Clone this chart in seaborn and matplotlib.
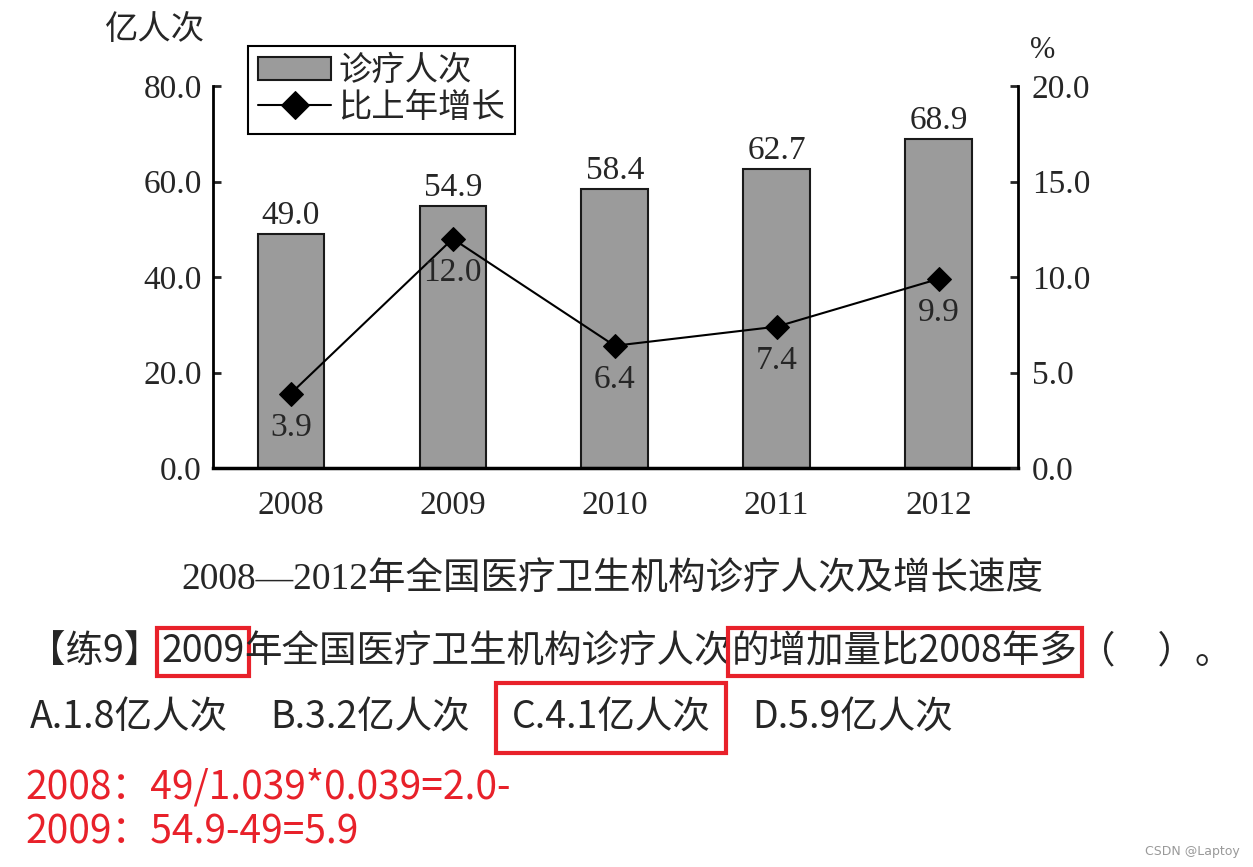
import numpy as np
import matplotlib
matplotlib.use('Agg')
import matplotlib.pyplot as plt
import seaborn as sns
import pandas as pd
from matplotlib.ticker import FormatStrFormatter

# 数据
years = ['2008', '2009', '2010', '2011', '2012']
visits = [49.0, 54.9, 58.4, 62.7, 68.9]   # 亿人次
growth = [3.9, 12.0, 6.4, 7.4, 9.9]       # 比上年增长 %

caption = '2008—2012年全国医疗卫生机构诊疗人次及增长速度'
question = ['【练9】', '2009', '年全国医疗卫生机构诊疗人次', '的增加量比2008年多', '（     ）。']
question_boxed = [False, True, False, True, False]
options = ['A.1.8亿人次', 'B.3.2亿人次', 'C.4.1亿人次', 'D.5.9亿人次']
answer = 'C.4.1亿人次'
notes = ['2008：49/1.039*0.039=2.0-', '2009：54.9-49=5.9']

sns.set_style('ticks')
plt.rcParams['font.family'] = ['Liberation Serif', 'Noto Sans CJK SC']
plt.rcParams['axes.unicode_minus'] = False
cjk = ['Noto Sans CJK SC', 'DejaVu Sans']
red = '#e8212a'

df = pd.DataFrame({'year': years, 'visits': visits, 'growth': growth})

W, H = 1253, 867
fig = plt.figure(figsize=(W / 100, H / 100), dpi=100)
fig.patch.set_facecolor('white')
ax = fig.add_axes([213 / W, 1 - 468 / H, (1018 - 213) / W, (468 - 86) / H])

sns.barplot(data=df, x='year', y='visits', ax=ax, color='#9b9b9b', saturation=1,
            edgecolor='#1a1a1a', linewidth=1.5, width=0.41, errorbar=None)

ax2 = ax.twinx()
sns.lineplot(x=np.arange(len(years)), y=df['growth'], ax=ax2, color='black',
             marker='D', markersize=12, markeredgecolor='black', linewidth=1.5)

ax.set_xlim(-0.48, 4.49)
ax.set_ylim(0, 80)
ax2.set_ylim(0, 20)
ax.set_yticks([0, 20, 40, 60, 80])
ax2.set_yticks([0, 5, 10, 15, 20])
ax.yaxis.set_major_formatter(FormatStrFormatter('%.1f'))
ax2.yaxis.set_major_formatter(FormatStrFormatter('%.1f'))
ax.set_xlabel('')
ax.set_ylabel('')
ax2.set_ylabel('')

for a in (ax, ax2):
    a.spines['top'].set_visible(False)
    for s in a.spines.values():
        s.set_linewidth(2)
        s.set_color('black')
ax.spines['right'].set_visible(False)
ax2.spines['left'].set_visible(False)
ax2.spines['bottom'].set_visible(False)
ax.spines['bottom'].set_linewidth(2.5)

ax.tick_params(axis='y', direction='in', length=6, width=2, labelsize=24, pad=8)
ax.tick_params(axis='x', length=0, pad=16, labelsize=24)
ax2.tick_params(axis='y', direction='in', length=6, width=2, labelsize=24, pad=10)

ax.bar_label(ax.containers[0], fmt='%.1f', padding=2, fontsize=24)
for i, g in enumerate(growth):
    ax2.annotate(f'{g:.1f}', (i, g), xytext=(0, -34), textcoords='offset pixels',
                 ha='center', va='center', fontsize=24)

leg = fig.legend([ax.containers[0], ax2.lines[0]], ['诊疗人次', '比上年增长'],
                 loc='upper left', bbox_to_anchor=(248 / W, 1 - 46 / H),
                 bbox_transform=fig.transFigure, frameon=True, fancybox=False,
                 edgecolor='black', framealpha=1, fontsize=24, handlelength=2.2,
                 handletextpad=0.2, borderpad=0.3, labelspacing=0.15, borderaxespad=0,
                 markerscale=1.15)
leg.get_frame().set_linewidth(1.5)

fig.text(155 / W, 1 - 30 / H, '亿人次', ha='center', va='center', fontsize=24)
fig.text(1043 / W, 1 - 50 / H, '%', ha='center', va='center', fontsize=22)

# 图下文字
fig.text(612 / W, 1 - 580 / H, caption, ha='center', va='center', fontsize=27)

tax = fig.add_axes([0, 0, 1, 1])
tax.set_axis_off()
tax.set_xlim(0, 1)
tax.set_ylim(0, 1)

box = dict(boxstyle='square,pad=0.12', fc='none', ec=red, lw=3)
prev = tax.text(28 / W, 1 - 652 / H, question[0], ha='left', va='center',
                fontsize=27, family=cjk)
for seg, boxed in zip(question[1:], question_boxed[1:]):
    prev = tax.annotate(seg, xy=(1, 0), xycoords=prev, ha='left', va='bottom',
                        fontsize=27, family=cjk, bbox=box if boxed else None)

opt_box = dict(boxstyle='square,pad=0.42', fc='none', ec=red, lw=3)
prev = tax.text(30 / W, 1 - 718 / H, options[0], ha='left', va='center',
                fontsize=27, family=cjk)
for opt in options[1:]:
    prev = tax.annotate(opt, xy=(1, 0.5), xycoords=prev, xytext=(42, 0),
                        textcoords='offset pixels', ha='left', va='center',
                        fontsize=27, family=cjk,
                        bbox=opt_box if opt == answer else None)

for k, note in enumerate(notes):
    fig.text(25 / W, 1 - (788 + 45 * k) / H, note, ha='left', va='center',
             fontsize=28, color=red, family=cjk)

fig.text(1240 / W, 1 - 851 / H, 'CSDN @Laptoy', ha='right', va='center',
         fontsize=9, color='#999999', family='DejaVu Sans')

fig.savefig('out.png', dpi=100)
